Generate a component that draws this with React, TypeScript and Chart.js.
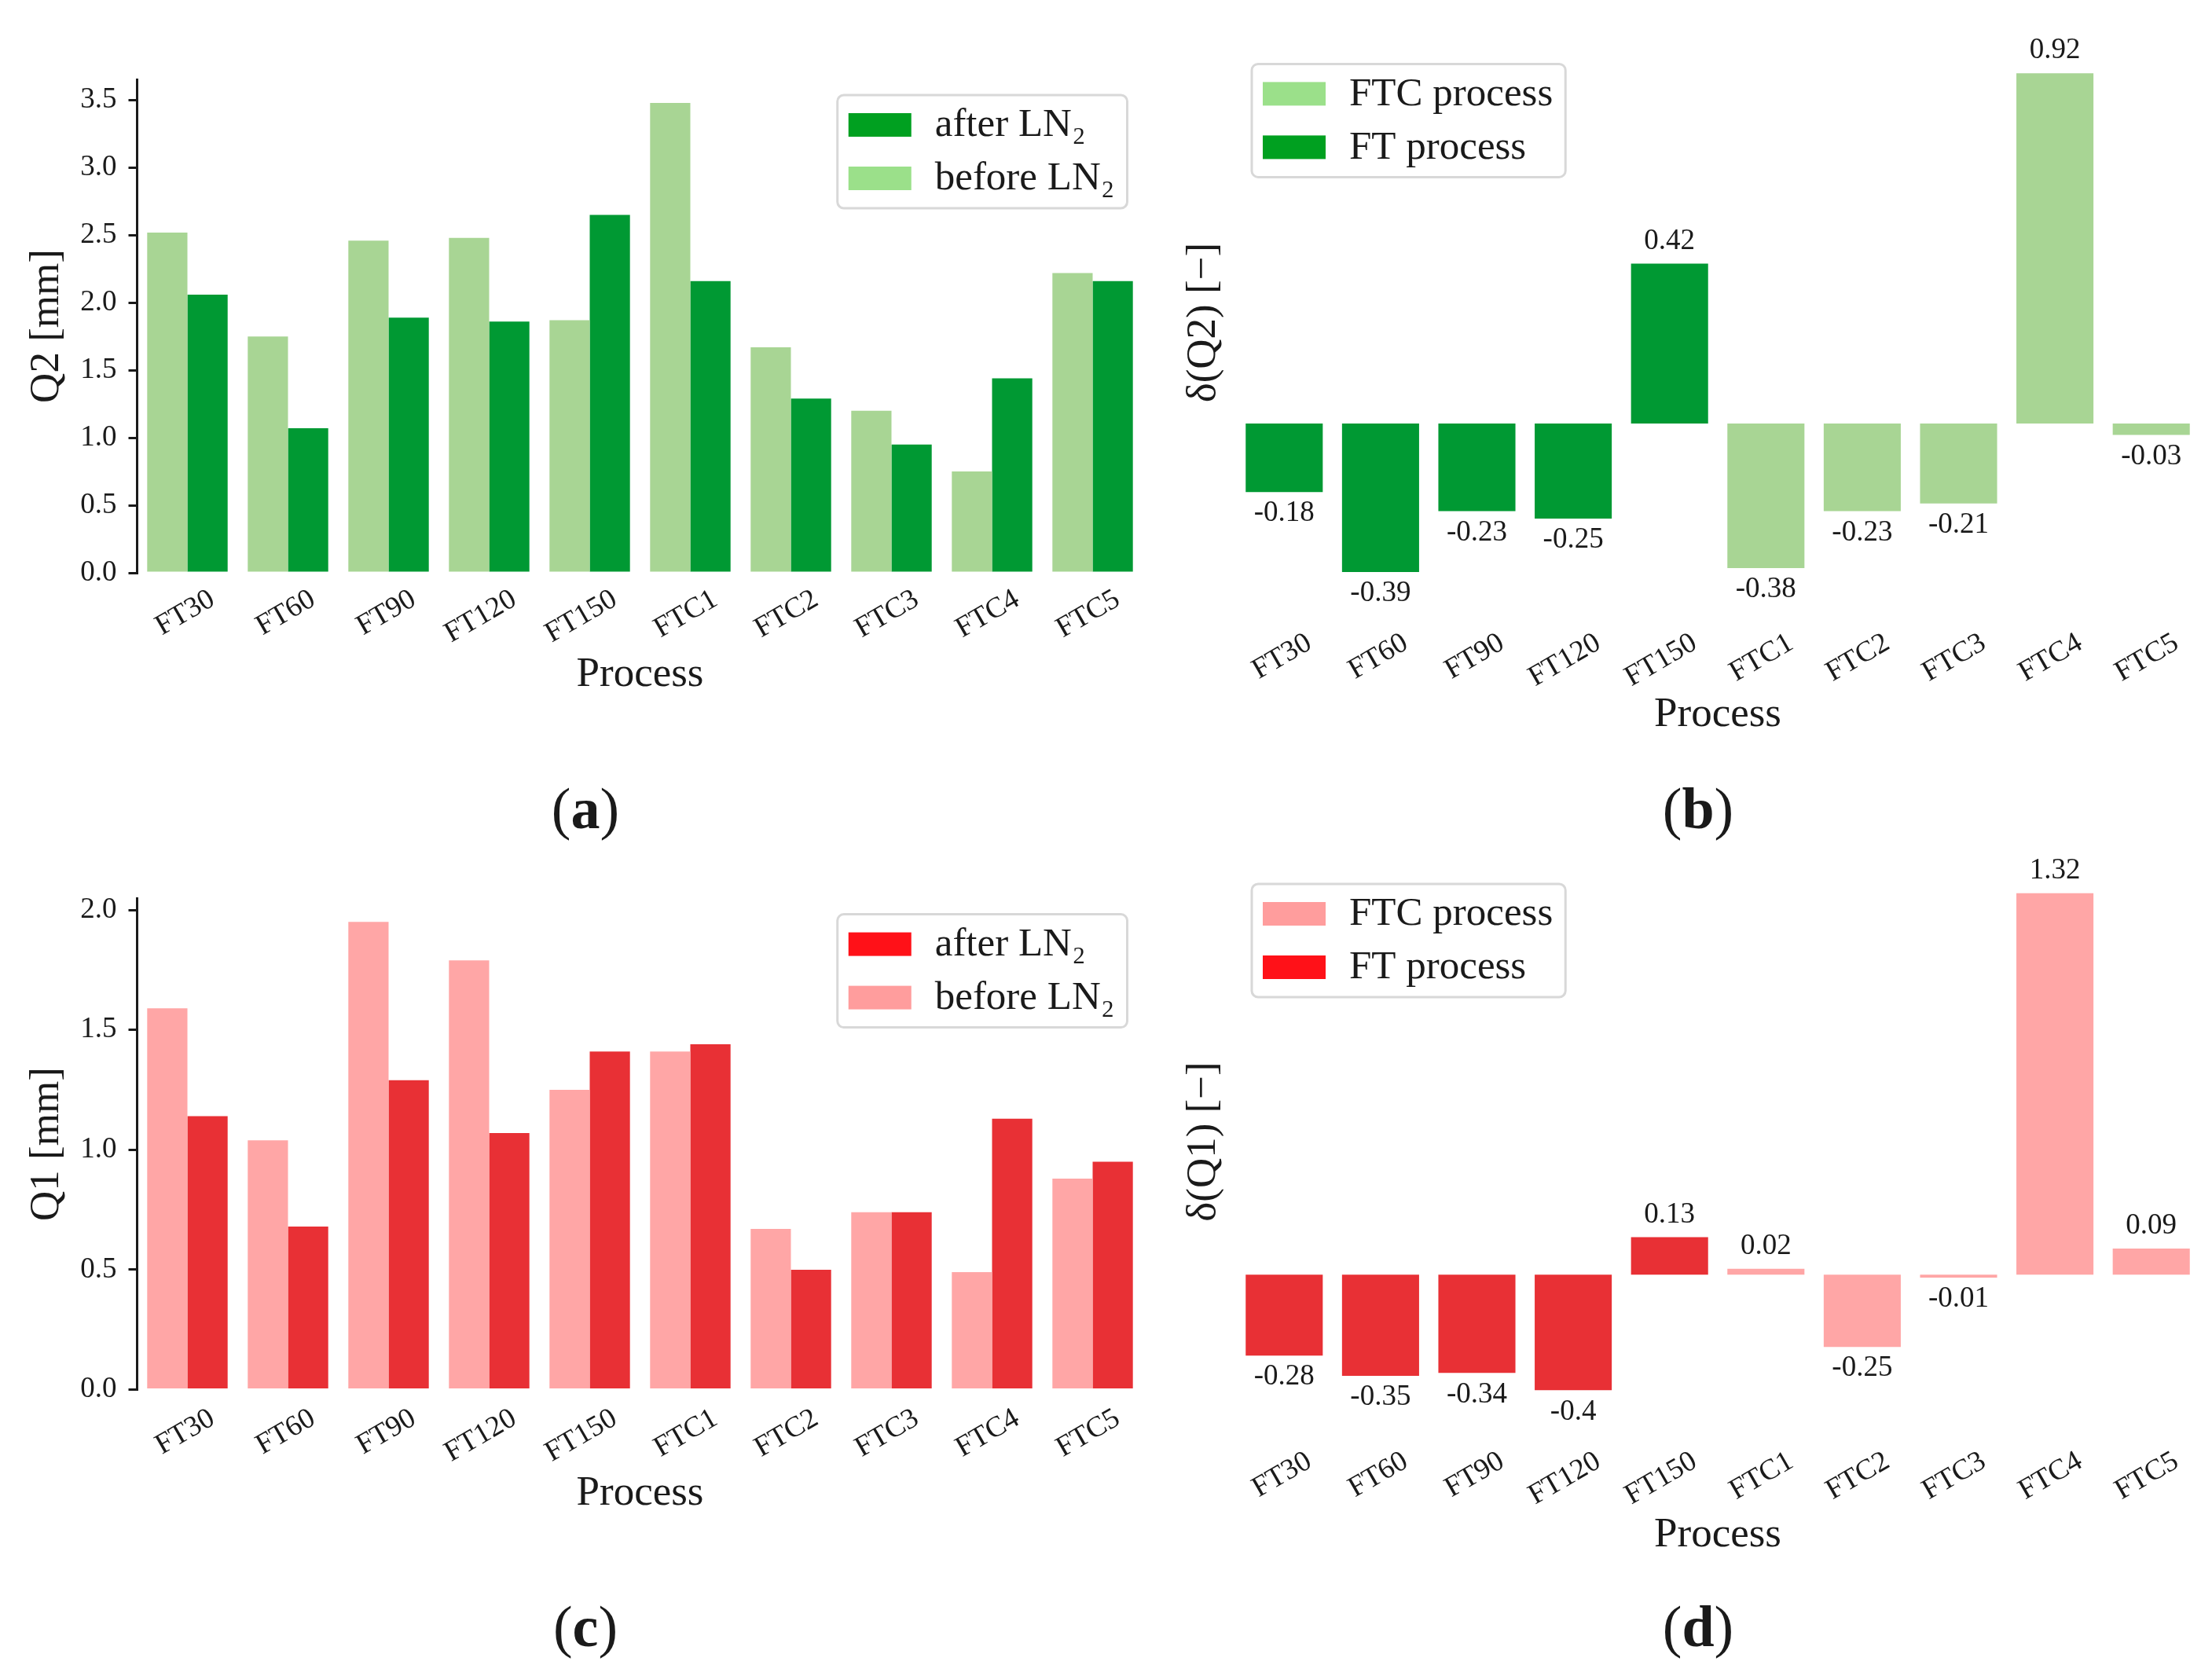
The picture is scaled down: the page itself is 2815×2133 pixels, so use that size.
import { useEffect, useRef } from 'react'
import { Chart, registerables } from 'chart.js'

Chart.register(...registerables)

const FONT = '"Liberation Serif", "Times New Roman", serif'
const INK = '#1a1a1a'

// categories
const processes = ['FT30', 'FT60', 'FT90', 'FT120', 'FT150', 'FTC1', 'FTC2', 'FTC3', 'FTC4', 'FTC5']

// Q2 [mm] before / after LN2
const q2Before = [2.52, 1.75, 2.46, 2.48, 1.87, 3.48, 1.67, 1.2, 0.75, 2.22]
const q2After = [2.06, 1.07, 1.89, 1.86, 2.65, 2.16, 1.29, 0.95, 1.44, 2.16]

// Q1 [mm] before / after LN2
const q1Before = [1.59, 1.04, 1.95, 1.79, 1.25, 1.41, 0.67, 0.74, 0.49, 0.88]
const q1After = [1.14, 0.68, 1.29, 1.07, 1.41, 1.44, 0.5, 0.74, 1.13, 0.95]

// relative change delta(Q)
const q2Delta = [-0.18, -0.39, -0.23, -0.25, 0.42, -0.38, -0.23, -0.21, 0.92, -0.03]
const q1Delta = [-0.28, -0.35, -0.34, -0.4, 0.13, 0.02, -0.25, -0.01, 1.32, 0.09]

// tick labels
const q2Ticks = [0, 0.5, 1, 1.5, 2, 2.5, 3, 3.5]
const q1Ticks = [0, 0.5, 1, 1.5, 2]

const GREEN_LIGHT = '#a8d594'
const GREEN_DARK = '#009933'
const GREEN_LIGHT_KEY = '#9be08a'
const GREEN_DARK_KEY = '#00a020'
const RED_LIGHT = '#ffa6a6'
const RED_DARK = '#e83035'
const RED_LIGHT_KEY = '#ff9d9d'
const RED_DARK_KEY = '#ff1118'

const TICK_SIZE = 37
const TITLE_SIZE = 53
const LEGEND_SIZE = 51

const isFTC = (i: number) => processes[i].startsWith('FTC')

// matplotlib-like framed legend drawn inside the plot area
const boxLegend = {
  id: 'boxLegend',
  afterDraw(chart: any, _args: any, opts: any) {
    const { ctx, chartArea } = chart
    ctx.save()
    ctx.font = `${LEGEND_SIZE}px ${FONT}`
    const textW = Math.max(...opts.items.map((it: any) => ctx.measureText(it.label).width))
    const w = 14 + 80 + 30 + textW + 16
    const h = 144
    const x = opts.side === 'right' ? chartArea.right - 20 - w : chartArea.left + 20
    const y = chartArea.top + 20
    ctx.beginPath()
    ctx.roundRect(x, y, w, h, 8)
    ctx.fillStyle = 'rgba(255,255,255,0.85)'
    ctx.fill()
    ctx.lineWidth = 3
    ctx.strokeStyle = '#d8d8d8'
    ctx.stroke()
    opts.items.forEach((it: any, i: number) => {
      const py = y + 23 + i * 68
      ctx.fillStyle = it.color
      ctx.fillRect(x + 14, py, 80, 30)
      ctx.fillStyle = INK
      ctx.textBaseline = 'middle'
      ctx.textAlign = 'left'
      ctx.fillText(it.label, x + 14 + 80 + 30, py + 16)
    })
    ctx.restore()
  },
}

// value labels above / below each bar
const barValueLabels = {
  id: 'barValueLabels',
  afterDatasetsDraw(chart: any) {
    const { ctx } = chart
    ctx.save()
    ctx.font = `${TICK_SIZE}px ${FONT}`
    ctx.fillStyle = INK
    ctx.textAlign = 'center'
    chart.data.datasets.forEach((ds: any, di: number) => {
      const meta = chart.getDatasetMeta(di)
      meta.data.forEach((bar: any, i: number) => {
        const v = ds.data[i]
        if (v === null || v === undefined) return
        if (v >= 0) {
          ctx.textBaseline = 'bottom'
          ctx.fillText(String(v), bar.x, bar.y - 10)
        } else {
          ctx.textBaseline = 'top'
          ctx.fillText(String(v), bar.x, bar.y + 9)
        }
      })
    })
    ctx.restore()
  },
}

interface Geometry {
  padTop: number
  padRight: number
  yWidth: number
  xHeight: number
  yTitlePad: number
  xTitlePad: number
  tickPad: number
}

function xScale(g: Geometry) {
  return {
    grid: { display: false, drawTicks: false },
    border: { display: false },
    ticks: {
      color: INK,
      font: { family: FONT, size: TICK_SIZE },
      minRotation: 30,
      maxRotation: 30,
      padding: g.tickPad,
      labelOffset: 32,
      autoSkip: false,
    },
    title: {
      display: true,
      text: 'Process',
      color: INK,
      font: { family: FONT, size: TITLE_SIZE },
      padding: { top: 0, bottom: g.xTitlePad },
    },
    afterFit: (s: any) => {
      s.height = g.xHeight
    },
  }
}

function compareConfig(
  before: number[],
  after: number[],
  ticks: number[],
  yMax: number,
  yTitle: string,
  light: string,
  dark: string,
  lightKey: string,
  darkKey: string,
  g: Geometry,
) {
  return {
    type: 'bar',
    data: {
      labels: processes,
      datasets: [
        { label: 'before LN₂', data: before, backgroundColor: light, borderWidth: 0 },
        { label: 'after LN₂', data: after, backgroundColor: dark, borderWidth: 0 },
      ],
    },
    options: {
      animation: false,
      responsive: false,
      devicePixelRatio: 1,
      layout: { padding: { top: g.padTop, right: g.padRight, left: 0, bottom: 0 } },
      datasets: { bar: { categoryPercentage: 0.8, barPercentage: 1 } },
      plugins: {
        legend: { display: false },
        tooltip: { enabled: false },
        boxLegend: {
          side: 'right',
          items: [
            { label: 'after LN₂', color: darkKey },
            { label: 'before LN₂', color: lightKey },
          ],
        },
      },
      scales: {
        x: xScale(g),
        y: {
          min: 0,
          max: yMax,
          afterBuildTicks: (s: any) => {
            s.ticks = ticks.map((v) => ({ value: v }))
          },
          grid: { display: true, drawOnChartArea: false, drawTicks: true, tickLength: 11, lineWidth: 3, color: INK },
          border: { display: true, color: INK, width: 3 },
          ticks: {
            color: INK,
            font: { family: FONT, size: TICK_SIZE },
            padding: 15,
            callback: (v: any) => Number(v).toFixed(1),
          },
          title: {
            display: true,
            text: yTitle,
            color: INK,
            font: { family: FONT, size: TITLE_SIZE },
            padding: { top: g.yTitlePad, bottom: 0 },
          },
          afterFit: (s: any) => {
            s.width = g.yWidth
          },
        },
      },
    },
    plugins: [boxLegend],
  }
}

function deltaConfig(
  delta: number[],
  yMin: number,
  yMax: number,
  yTitle: string,
  light: string,
  dark: string,
  lightKey: string,
  darkKey: string,
  g: Geometry,
) {
  return {
    type: 'bar',
    data: {
      labels: processes,
      datasets: [
        {
          label: 'FTC process',
          data: delta.map((v, i) => (isFTC(i) ? v : null)),
          backgroundColor: light,
          borderWidth: 0,
          grouped: false,
        },
        {
          label: 'FT process',
          data: delta.map((v, i) => (isFTC(i) ? null : v)),
          backgroundColor: dark,
          borderWidth: 0,
          grouped: false,
        },
      ],
    },
    options: {
      animation: false,
      responsive: false,
      devicePixelRatio: 1,
      layout: { padding: { top: g.padTop, right: g.padRight, left: 0, bottom: 0 } },
      datasets: { bar: { categoryPercentage: 0.8, barPercentage: 1 } },
      plugins: {
        legend: { display: false },
        tooltip: { enabled: false },
        boxLegend: {
          side: 'left',
          items: [
            { label: 'FTC process', color: lightKey },
            { label: 'FT process', color: darkKey },
          ],
        },
      },
      scales: {
        x: xScale(g),
        y: {
          min: yMin,
          max: yMax,
          grid: { display: false },
          border: { display: false },
          ticks: { display: false },
          title: {
            display: true,
            text: yTitle,
            color: INK,
            font: { family: FONT, size: TITLE_SIZE },
            padding: { top: g.yTitlePad, bottom: 0 },
          },
          afterFit: (s: any) => {
            s.width = g.yWidth
          },
        },
      },
    },
    plugins: [boxLegend, barValueLabels],
  }
}

interface PanelProps {
  left: number
  top: number
  width: number
  height: number
  config: () => any
}

function Panel({ left, top, width, height, config }: PanelProps) {
  const canvasRef = useRef<HTMLCanvasElement>(null)

  useEffect(() => {
    if (!canvasRef.current) return
    const chart = new Chart(canvasRef.current, config())
    return () => {
      chart.destroy()
    }
  }, [])

  return (
    <canvas
      ref={canvasRef}
      width={width}
      height={height}
      style={{ position: 'absolute', left, top, width, height }}
    />
  )
}

function Caption({ x, y, letter }: { x: number; y: number; letter: string }) {
  return (
    <div
      style={{
        position: 'absolute',
        left: x,
        top: y,
        transform: 'translate(-50%, -50%)',
        fontFamily: FONT,
        fontSize: 74,
        color: INK,
        lineHeight: 1,
        whiteSpace: 'nowrap',
      }}
    >
      (<b>{letter}</b>)
    </div>
  )
}

export default function App() {
  return (
    <div
      style={{
        position: 'absolute',
        left: 0,
        top: 0,
        width: 2815,
        height: 2133,
        background: '#ffffff',
        overflow: 'hidden',
      }}
    >
      <Panel
        left={0}
        top={0}
        width={1470}
        height={920}
        config={() =>
          compareConfig(q2Before, q2After, q2Ticks, 3.654, 'Q2 [mm]', GREEN_LIGHT, GREEN_DARK, GREEN_LIGHT_KEY, GREEN_DARK_KEY, {
            padTop: 101,
            padRight: 15.5,
            yWidth: 174.5,
            xHeight: 191,
            yTitlePad: 28,
            xTitlePad: 29,
            tickPad: 12,
          })
        }
      />
      <Panel
        left={1480}
        top={0}
        width={1335}
        height={960}
        config={() =>
          deltaConfig(q2Delta, -0.4555, 0.9855, 'δ(Q2) [−]', GREEN_LIGHT, GREEN_DARK, GREEN_LIGHT_KEY, GREEN_DARK_KEY, {
            padTop: 61.4,
            padRight: 16,
            yWidth: 93,
            xHeight: 200.3,
            yTitlePad: 20,
            xTitlePad: 18,
            tickPad: 37,
          })
        }
      />
      <Panel
        left={0}
        top={1040}
        width={1470}
        height={920}
        config={() =>
          compareConfig(q1Before, q1After, q1Ticks, 2.0475, 'Q1 [mm]', RED_LIGHT, RED_DARK, RED_LIGHT_KEY, RED_DARK_KEY, {
            padTop: 103.6,
            padRight: 15.5,
            yWidth: 174.5,
            xHeight: 191.4,
            yTitlePad: 28,
            xTitlePad: 27,
            tickPad: 15,
          })
        }
      />
      <Panel
        left={1480}
        top={1040}
        width={1335}
        height={960}
        config={() =>
          deltaConfig(q1Delta, -0.486, 1.406, 'δ(Q1) [−]', RED_LIGHT, RED_DARK, RED_LIGHT_KEY, RED_DARK_KEY, {
            padTop: 65,
            padRight: 16,
            yWidth: 93,
            xHeight: 199,
            yTitlePad: 20,
            xTitlePad: 14,
            tickPad: 37,
          })
        }
      />
      <Caption x={745} y={1029} letter="a" />
      <Caption x={2161} y={1029} letter="b" />
      <Caption x={745} y={2070} letter="c" />
      <Caption x={2161} y={2070} letter="d" />
    </div>
  )
}
